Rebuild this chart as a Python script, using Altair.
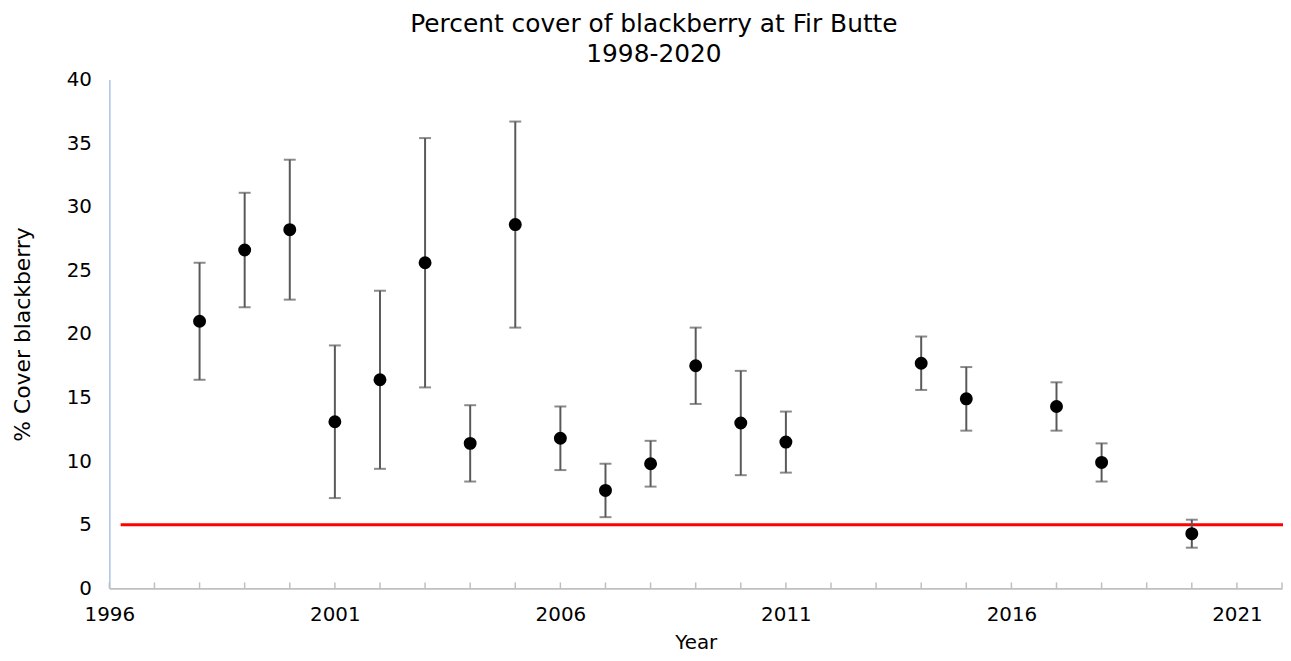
import altair as alt
import pandas as pd

years = [1998, 1999, 2000, 2001, 2002, 2003, 2004, 2005, 2006, 2007, 2008, 2009, 2010, 2011, 2014, 2015, 2017, 2018, 2020]
cover = [21.0, 26.6, 28.2, 13.1, 16.4, 25.6, 11.4, 28.6, 11.8, 7.7, 9.8, 17.5, 13.0, 11.5, 17.7, 14.9, 14.3, 9.9, 4.3]
lower = [16.4, 22.1, 22.7, 7.1, 9.4, 15.8, 8.4, 20.5, 9.3, 5.6, 8.0, 14.5, 8.9, 9.1, 15.6, 12.4, 12.4, 8.4, 3.2]
upper = [25.6, 31.1, 33.7, 19.1, 23.4, 35.4, 14.4, 36.7, 14.3, 9.8, 11.6, 20.5, 17.1, 13.9, 19.8, 17.4, 16.2, 11.4, 5.4]

threshold = 5
threshold_x = [1996.25, 2022.1]
tick_years = list(range(1996, 2023))
y_ticks = [0, 5, 10, 15, 20, 25, 30, 35, 40]

FONT = "DejaVu Sans"

df = pd.DataFrame({"Year": years, "Cover": cover, "Low": lower, "High": upper})
thr = pd.DataFrame({"x1": [threshold_x[0]], "x2": [threshold_x[1]], "y": [threshold]})
ticks_df = pd.DataFrame({"Year": tick_years})

xscale = alt.Scale(domain=[1996, 2022], nice=False, zero=False)
yscale = alt.Scale(domain=[0, 40], nice=False)

xaxis = alt.Axis(
    title="Year", values=tick_years,
    labelExpr="(datum.value - 1996) % 5 == 0 ? datum.value : ''",
    format="d", ticks=False, grid=False, labelFlush=False,
    domainColor="#BFBFBF", domainWidth=2,
    labelFont=FONT, labelFontSize=20, labelColor="black", labelPadding=16,
    titleFont=FONT, titleFontSize=20, titleFontWeight="normal", titleColor="black", titlePadding=9,
)
yaxis = alt.Axis(
    title="% Cover blackberry", values=y_ticks, ticks=False, grid=False,
    domainColor="#A9C4E0", domainWidth=1.5,
    labelFont=FONT, labelFontSize=20, labelColor="black", labelPadding=18,
    titleFont=FONT, titleFontSize=22, titleFontWeight="normal", titleColor="black", titlePadding=32,
)

base = alt.Chart(df)

minor = alt.Chart(ticks_df).mark_rule(color="#BFBFBF", strokeWidth=1.5).encode(
    x=alt.X("Year:Q", scale=xscale, axis=xaxis),
    y=alt.value(512), y2=alt.value(506),
)

thr_line = alt.Chart(thr).mark_rule(color="#FF0000", strokeWidth=3).encode(
    x=alt.X("x1:Q", scale=xscale), x2="x2:Q",
    y=alt.Y("y:Q", scale=yscale, axis=yaxis),
)

bars = base.mark_rule(color="#595959", strokeWidth=2).encode(
    x=alt.X("Year:Q", scale=xscale), y=alt.Y("Low:Q", scale=yscale), y2="High:Q",
)
cap_lo = base.mark_tick(color="#595959", thickness=2, size=12, orient="horizontal").encode(
    x=alt.X("Year:Q", scale=xscale), y=alt.Y("Low:Q", scale=yscale),
)
cap_hi = base.mark_tick(color="#595959", thickness=2, size=12, orient="horizontal").encode(
    x=alt.X("Year:Q", scale=xscale), y=alt.Y("High:Q", scale=yscale),
)
pts = base.mark_circle(color="black", opacity=1, size=170).encode(
    x=alt.X("Year:Q", scale=xscale), y=alt.Y("Cover:Q", scale=yscale),
)

chart = alt.layer(minor, thr_line, bars, cap_lo, cap_hi, pts).properties(
    width=1180, height=512,
    background="white",
    title=alt.TitleParams(
        text=["Percent cover of blackberry at Fir Butte", "1998-2020"],
        font=FONT, fontSize=25, fontWeight="normal", color="black",
        anchor="middle", dx=-42, lineHeight=30, offset=3,
    ),
    autosize=alt.AutoSizeParams(type="none"),
    padding={"left": 102, "top": 70, "right": 1, "bottom": 63},
).configure_view(stroke=None, strokeWidth=0)

chart.save("out.html", embed_options={"renderer": "svg", "actions": False})
